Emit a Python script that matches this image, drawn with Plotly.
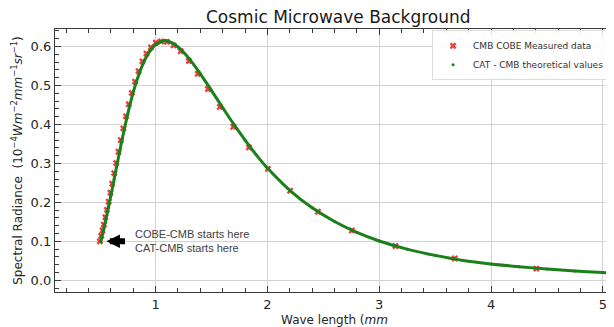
import plotly.graph_objects as go

# COBE measured data (wavelength in mm, spectral radiance)
cobe_wavelength = [4.405, 3.676, 3.145, 2.755, 2.451, 2.203, 2.004, 1.835, 1.695, 1.575,
                   1.468, 1.377, 1.297, 1.224, 1.160, 1.101, 1.049, 1.002, 0.958, 0.918,
                   0.882, 0.847, 0.816, 0.787, 0.760, 0.735, 0.711, 0.689, 0.668, 0.648,
                   0.630, 0.612, 0.596, 0.580, 0.565, 0.551, 0.537, 0.525, 0.513, 0.501]
cobe_radiance = [0.030, 0.056, 0.088, 0.128, 0.176, 0.230, 0.286, 0.341, 0.394, 0.445,
                 0.491, 0.530, 0.563, 0.588, 0.603, 0.612, 0.613, 0.610, 0.598, 0.582,
                 0.562, 0.537, 0.510, 0.481, 0.452, 0.421, 0.390, 0.360, 0.330, 0.301,
                 0.275, 0.248, 0.225, 0.202, 0.181, 0.162, 0.143, 0.128, 0.114, 0.100]

# CAT-CMB theoretical values
cat_wavelength = [0.51, 0.52, 0.55, 0.58, 0.60, 0.63, 0.65, 0.68, 0.70, 0.75,
                  0.80, 0.85, 0.90, 0.95, 1.00, 1.05, 1.10, 1.15, 1.20, 1.30,
                  1.40, 1.50, 1.60, 1.70, 1.80, 1.90, 2.00, 2.20, 2.40, 2.60,
                  2.80, 3.00, 3.25, 3.50, 3.75, 4.00, 4.25, 4.50, 4.75, 5.00, 5.10]
cat_radiance = [0.099, 0.112, 0.150, 0.190, 0.218, 0.261, 0.290, 0.333, 0.361, 0.426,
                0.483, 0.528, 0.564, 0.589, 0.605, 0.613, 0.615, 0.609, 0.599, 0.569,
                0.530, 0.487, 0.443, 0.400, 0.360, 0.322, 0.288, 0.231, 0.186, 0.151,
                0.123, 0.101, 0.080, 0.064, 0.051, 0.042, 0.035, 0.029, 0.024, 0.020, 0.019]

x_ticks = [1, 2, 3, 4, 5]
y_ticks = [0.0, 0.1, 0.2, 0.3, 0.4, 0.5, 0.6]

FONT = "DejaVu Sans"
GREEN = "#1a801a"

fig = go.Figure()
fig.add_trace(go.Scatter(
    x=cobe_wavelength, y=cobe_radiance, mode="markers",
    name="CMB COBE Measured data",
    marker=dict(symbol="x", size=6, color="rgba(235,40,40,0.9)", line=dict(width=0)),
))
fig.add_trace(go.Scatter(
    x=cat_wavelength, y=cat_radiance, mode="lines",
    line=dict(color=GREEN, width=3, shape="spline", smoothing=0.8),
    showlegend=False, legendgroup="cat", hoverinfo="skip",
))
fig.add_trace(go.Scatter(
    x=cat_wavelength, y=cat_radiance, mode="markers",
    name="CAT - CMB theoretical values", legendgroup="cat",
    marker=dict(size=3, color=GREEN),
))

axis_common = dict(
    showline=True, linecolor="#3a3a3a", linewidth=1.2, mirror="allticks",
    ticks="inside", ticklen=6, tickwidth=1.2, tickcolor="#3a3a3a",
    showgrid=True, gridcolor="#d3d3d3", gridwidth=1, zeroline=False,
    tickfont=dict(family=FONT, size=13, color="#262626"),
)

fig.update_xaxes(
    range=[0.1, 5.1], tickvals=x_ticks, ticktext=[str(v) for v in x_ticks],
    minor=dict(ticks="inside", ticklen=3.5, dtick=0.2, tick0=0, tickcolor="#3a3a3a", showgrid=False),
    title=dict(text="Wave length (<i>mm</i>", font=dict(family=FONT, size=12, color="#262626"), standoff=4),
    **axis_common,
)
fig.update_yaxes(
    range=[-0.030, 0.645], tickvals=y_ticks, ticktext=[f"{v:.1f}" for v in y_ticks],
    minor=dict(ticks="inside", ticklen=3.5, dtick=0.02, tick0=0, tickcolor="#3a3a3a", showgrid=False),
    title=dict(text="Spectral Radiance  (10<sup>−4</sup><i>Wm</i><sup>−2</sup><i>mm</i><sup>−1</sup><i>sr</i><sup>−1</sup>)",
               font=dict(family=FONT, size=12, color="#262626"), standoff=5),
    **axis_common,
)

fig.add_annotation(
    x=0.56, y=0.1, ax=0.74, ay=0.1, xref="x", yref="y", axref="x", ayref="y",
    text="", showarrow=True, arrowhead=2, arrowsize=0.45, arrowwidth=6, arrowcolor="black",
)
fig.add_annotation(
    x=0.80, y=0.1, xref="x", yref="y", xanchor="left", yanchor="middle", align="left",
    text="COBE-CMB starts here<br>CAT-CMB starts here", showarrow=False,
    font=dict(family="Liberation Sans", size=11, color="#404040"),
)

# page body has an 8px margin, so the figure is sized to end at the window edge
fig.update_layout(
    width=606, height=319,
    margin=dict(l=47, r=0, t=21, b=35),
    paper_bgcolor="white", plot_bgcolor="white",
    title=dict(text="Cosmic Microwave Background", x=0.545, xanchor="center", y=0.99, yanchor="top",
               font=dict(family=FONT, size=17, color="#1a1a1a")),
    legend=dict(x=0.993, xanchor="right", y=0.995, yanchor="top",
                bgcolor="rgba(255,255,255,0.85)", bordercolor="#dddddd", borderwidth=1,
                font=dict(family=FONT, size=9, color="#333333"),
                tracegroupgap=0, itemwidth=30),
    showlegend=True,
)

fig.write_html("out.html")
